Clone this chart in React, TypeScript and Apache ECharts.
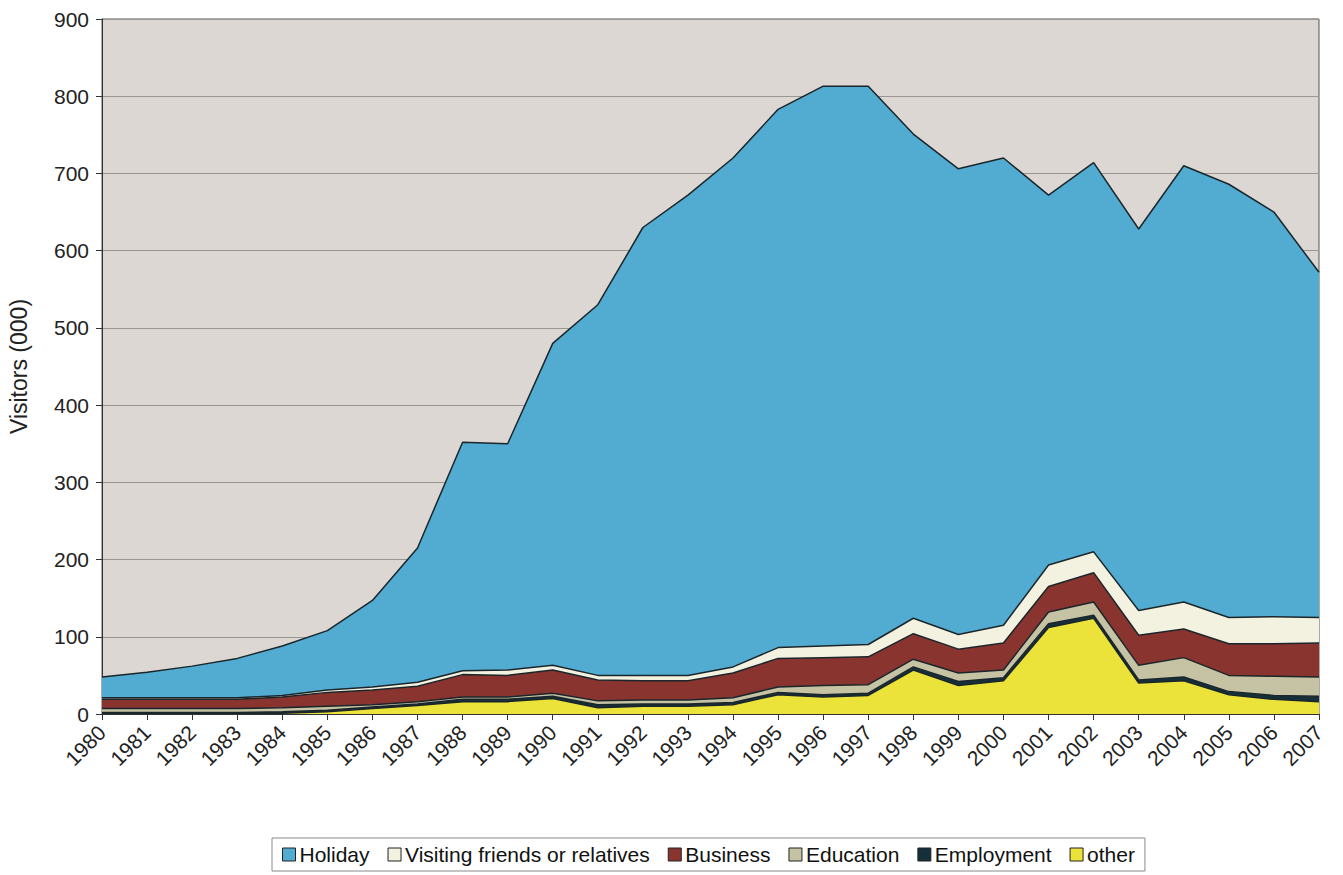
import React, { useEffect, useRef } from "react";
import * as echarts from "echarts";

// Years on the category axis
const years = [
  "1980", "1981", "1982", "1983", "1984", "1985", "1986", "1987", "1988", "1989",
  "1990", "1991", "1992", "1993", "1994", "1995", "1996", "1997", "1998", "1999",
  "2000", "2001", "2002", "2003", "2004", "2005", "2006", "2007",
];

// Visitors (000) by purpose of visit, stacked bottom to top
const other = [1, 1, 1, 1, 1, 3, 7, 11, 16, 16, 20, 8, 10, 10, 12, 25, 22, 24, 57, 37, 43, 112, 124, 40, 43, 25, 19, 16];
const employment = [1, 1, 1, 1, 2, 2, 2, 2, 3, 3, 3, 4, 3, 3, 3, 3, 3, 3, 4, 5, 4, 5, 4, 4, 5, 4, 5, 7];
const education = [5, 5, 5, 5, 5, 5, 3, 3, 3, 3, 4, 5, 5, 5, 6, 7, 12, 11, 10, 11, 10, 15, 17, 19, 25, 21, 25, 25];
const business = [12, 12, 12, 12, 14, 18, 19, 20, 29, 28, 30, 27, 25, 25, 32, 37, 36, 36, 33, 31, 35, 33, 38, 39, 37, 41, 42, 44];
const visitingFriends = [2, 2, 2, 2, 2, 3, 4, 5, 5, 7, 6, 6, 7, 7, 8, 14, 15, 16, 20, 19, 23, 28, 27, 32, 35, 34, 35, 33];
const holiday = [27, 33, 41, 51, 64, 77, 112, 174, 296, 293, 417, 480, 580, 622, 659, 697, 725, 723, 627, 603, 605, 479, 504, 494, 565, 561, 524, 447];

const legendOrder = ["Holiday", "Visiting friends or relatives", "Business", "Education", "Employment", "other"];

const FONT = "'Liberation Sans', Arial, sans-serif";

export default function App() {
  const ref = useRef<HTMLDivElement>(null);

  useEffect(() => {
    if (!ref.current) return;
    const chart = echarts.init(ref.current, undefined, { renderer: "svg" });

    const layer = (name: string, data: number[], color: string) => ({
      name,
      type: "line",
      stack: "visitors",
      data,
      color,
      symbol: "none",
      showSymbol: false,
      itemStyle: { color },
      lineStyle: { color: "#1b262b", width: 1.5 },
      areaStyle: { color, opacity: 1 },
      emphasis: { disabled: true },
    });

    chart.setOption({
      animation: false,
      backgroundColor: "#ffffff",
      textStyle: { fontFamily: FONT },
      grid: {
        left: 102,
        right: 24,
        top: 19,
        bottom: 161,
        outerBoundsMode: "none",
        show: true,
        backgroundColor: "#dcd7d3",
        borderColor: "#555555",
        borderWidth: 1,
      },
      legend: {
        data: legendOrder,
        left: 272,
        top: 838,
        orient: "horizontal",
        icon: "rect",
        itemWidth: 13,
        itemHeight: 13,
        itemGap: 18,
        padding: [6, 10],
        borderColor: "#8a8a8a",
        borderWidth: 1,
        backgroundColor: "#ffffff",
        itemStyle: { borderColor: "#222222", borderWidth: 1 },
        textStyle: { fontSize: 21, color: "#111111", fontFamily: FONT, padding: [0, 0, 0, -1] },
      },
      xAxis: {
        type: "category",
        data: years,
        boundaryGap: false,
        axisLine: { lineStyle: { color: "#333333", width: 1 } },
        axisTick: { show: true, length: 6, alignWithLabel: true, lineStyle: { color: "#333333" } },
        axisLabel: { rotate: 45, fontSize: 21, color: "#222222", margin: 15, interval: 0, fontFamily: FONT },
        splitLine: { show: false },
      },
      yAxis: {
        type: "value",
        min: 0,
        max: 900,
        interval: 100,
        name: "Visitors (000)",
        nameLocation: "middle",
        nameRotate: 90,
        nameGap: 72,
        nameTextStyle: { fontSize: 23, color: "#222222", fontFamily: FONT },
        axisLine: { show: true, lineStyle: { color: "#333333", width: 1 } },
        axisTick: { show: true, length: 6, lineStyle: { color: "#333333" } },
        axisLabel: { fontSize: 21, color: "#222222", margin: 13, fontFamily: FONT },
        splitLine: { show: true, lineStyle: { color: "#9a9690", width: 1 } },
      },
      series: [
        layer("other", other, "#ece33a"),
        layer("Employment", employment, "#15303a"),
        layer("Education", education, "#c6c2a4"),
        layer("Business", business, "#8a3430"),
        layer("Visiting friends or relatives", visitingFriends, "#f3f1e0"),
        layer("Holiday", holiday, "#52abd1"),
      ],
    });

    return () => chart.dispose();
  }, []);

  return (
    <div
      ref={ref}
      style={{ position: "fixed", left: 0, top: 0, width: 1343, height: 875, background: "#ffffff" }}
    />
  );
}
